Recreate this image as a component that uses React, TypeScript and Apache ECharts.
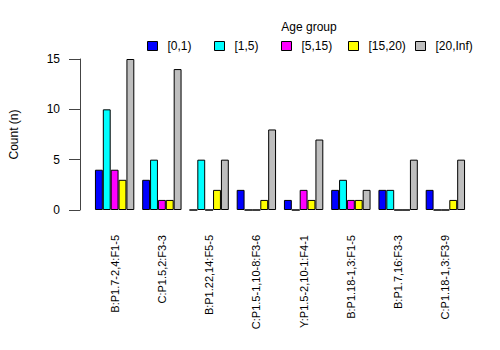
import React, { useEffect, useRef } from "react";
import * as echarts from "echarts";

const categories = [
  "B:P1.7-2,4:F1-5",
  "C:P1.5,2:F3-3",
  "B:P1.22,14:F5-5",
  "C:P1.5-1,10-8:F3-6",
  "Y:P1.5-2,10-1:F4-1",
  "B:P1.18-1,3:F1-5",
  "B:P1.7,16:F3-3",
  "C:P1.18-1,3:F3-9",
];
const ageGroups = ["[0,1)", "[1,5)", "[5,15)", "[15,20)", "[20,Inf)"];
const colors = ["#0000FF", "#00FFFF", "#FF00FF", "#FFFF00", "#BEBEBE"];
const age0_1 = [4, 3, 0, 2, 1, 2, 2, 2];
const age1_5 = [10, 5, 5, 0, 0, 3, 2, 0];
const age5_15 = [4, 1, 0, 0, 2, 1, 0, 0];
const age15_20 = [3, 1, 2, 1, 1, 1, 0, 1];
const age20_inf = [15, 14, 5, 8, 7, 2, 5, 5];
const seriesValues = [age0_1, age1_5, age5_15, age15_20, age20_inf];
const yTicks = [0, 5, 10, 15];

const FONT = "Liberation Sans, Arial, sans-serif";

export default function App() {
  const ref = useRef<HTMLDivElement>(null);
  useEffect(() => {
    document.body.style.margin = "0";
    if (!ref.current) return;
    const chart = echarts.init(ref.current, null, { renderer: "svg" });
    chart.setOption({
      animation: false,
      backgroundColor: "#ffffff",
      title: {
        text: "Age group",
        left: 309,
        top: 21,
        padding: 0,
        textAlign: "center",
        textStyle: { fontFamily: FONT, fontSize: 12, fontWeight: "normal", color: "#000" },
      },
      legend: ageGroups.map((name, i) => ({
        left: 147 + i * 67,
        top: 40,
        padding: 0,
        itemWidth: 10,
        itemHeight: 9,
        icon: "rect",
        data: [name],
        itemStyle: { borderColor: "#000", borderWidth: 1 },
        textStyle: {
          fontFamily: FONT,
          fontSize: 12,
          color: "#000",
          padding: [0, 0, 0, 5],
        },
      })),
      grid: { left: 91, right: 31, top: 59, bottom: 140 },
      xAxis: {
        type: "category",
        data: categories,
        axisLine: { show: false },
        axisTick: { show: false },
        axisLabel: {
          rotate: 90,
          margin: 25,
          interval: 0,
          fontFamily: FONT,
          fontSize: 11,
          color: "#000",
        },
      },
      yAxis: {
        type: "value",
        min: 0,
        max: 15,
        interval: 5,
        offset: 11,
        name: "Count (n)",
        nameLocation: "middle",
        nameGap: 60,
        nameRotate: 90,
        nameTextStyle: { fontFamily: FONT, fontSize: 12, color: "#000" },
        axisLine: { show: true, lineStyle: { color: "#444", width: 1 } },
        axisTick: { show: true, length: 11, lineStyle: { color: "#444" } },
        splitLine: { show: false },
        axisLabel: {
          margin: 20,
          fontFamily: FONT,
          fontSize: 12,
          color: "#000",
          customValues: yTicks,
        },
      },
      series: ageGroups.map((name, i) => ({
        name,
        type: "bar",
        data: seriesValues[i],
        barGap: "0%",
        barCategoryGap: "16.67%",
        itemStyle: { color: colors[i], borderColor: "#000", borderWidth: 1 },
      })),
    });
    return () => chart.dispose();
  }, []);
  return <div ref={ref} style={{ width: 500, height: 350 }} />;
}
